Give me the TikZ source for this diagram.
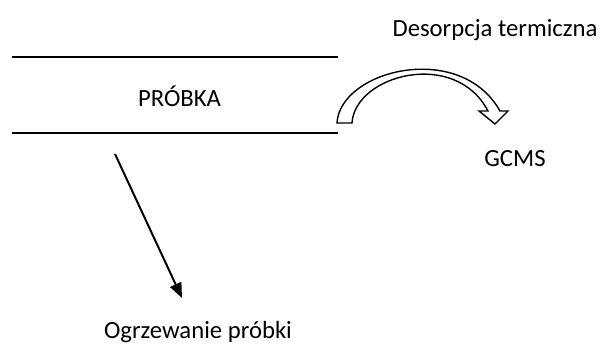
\documentclass[tikz,border=0pt]{standalone}
\usepackage{fontspec}
\setmainfont{Carlito}
\usetikzlibrary{arrows.meta}
\begin{document}
\begin{tikzpicture}[x=1pt,y=-1pt,
  lbl/.style={font=\fontsize{24.7}{30}\selectfont, anchor=base, inner sep=0pt},
  rule/.style={line width=1.1pt},
  hollow/.style={draw=black, fill=white, line width=1.4pt, line join=miter},
  slant/.style={line width=2pt, -{Triangle[length=15pt,width=12pt]}}]
\useasboundingbox (0,0) rectangle (600,347);
% sample layer lines
\coordinate (t1) at (12,57);
\coordinate (t2) at (338,57);
\coordinate (b1) at (12,133);
\coordinate (b2) at (338,133);
\draw[rule] (t1) -- (t2);
\draw[rule] (b1) -- (b2);
\node[lbl] (probka) at (179.5,107) {PRÓBKA};
\node[lbl] (desorp) at (495,37) {Desorpcja termiczna};
\node[lbl] (gcms) at (515,167) {GCMS};
\node[lbl] (ogrz) at (198,339) {Ogrzewanie próbki};
% hollow curved arrow
\path[hollow] (337,123) .. controls (340,70) and (460,40) .. (500,111)
  -- (508,111) -- (495,124) -- (479,111) -- (488,111)
  .. controls (455,48) and (355,75) .. (352,123) -- cycle;
% slanted arrow
\coordinate (s1) at (115,154);
\coordinate (s2) at (182,298);
\draw[slant] (s1) -- (s2);
\end{tikzpicture}
\end{document}
